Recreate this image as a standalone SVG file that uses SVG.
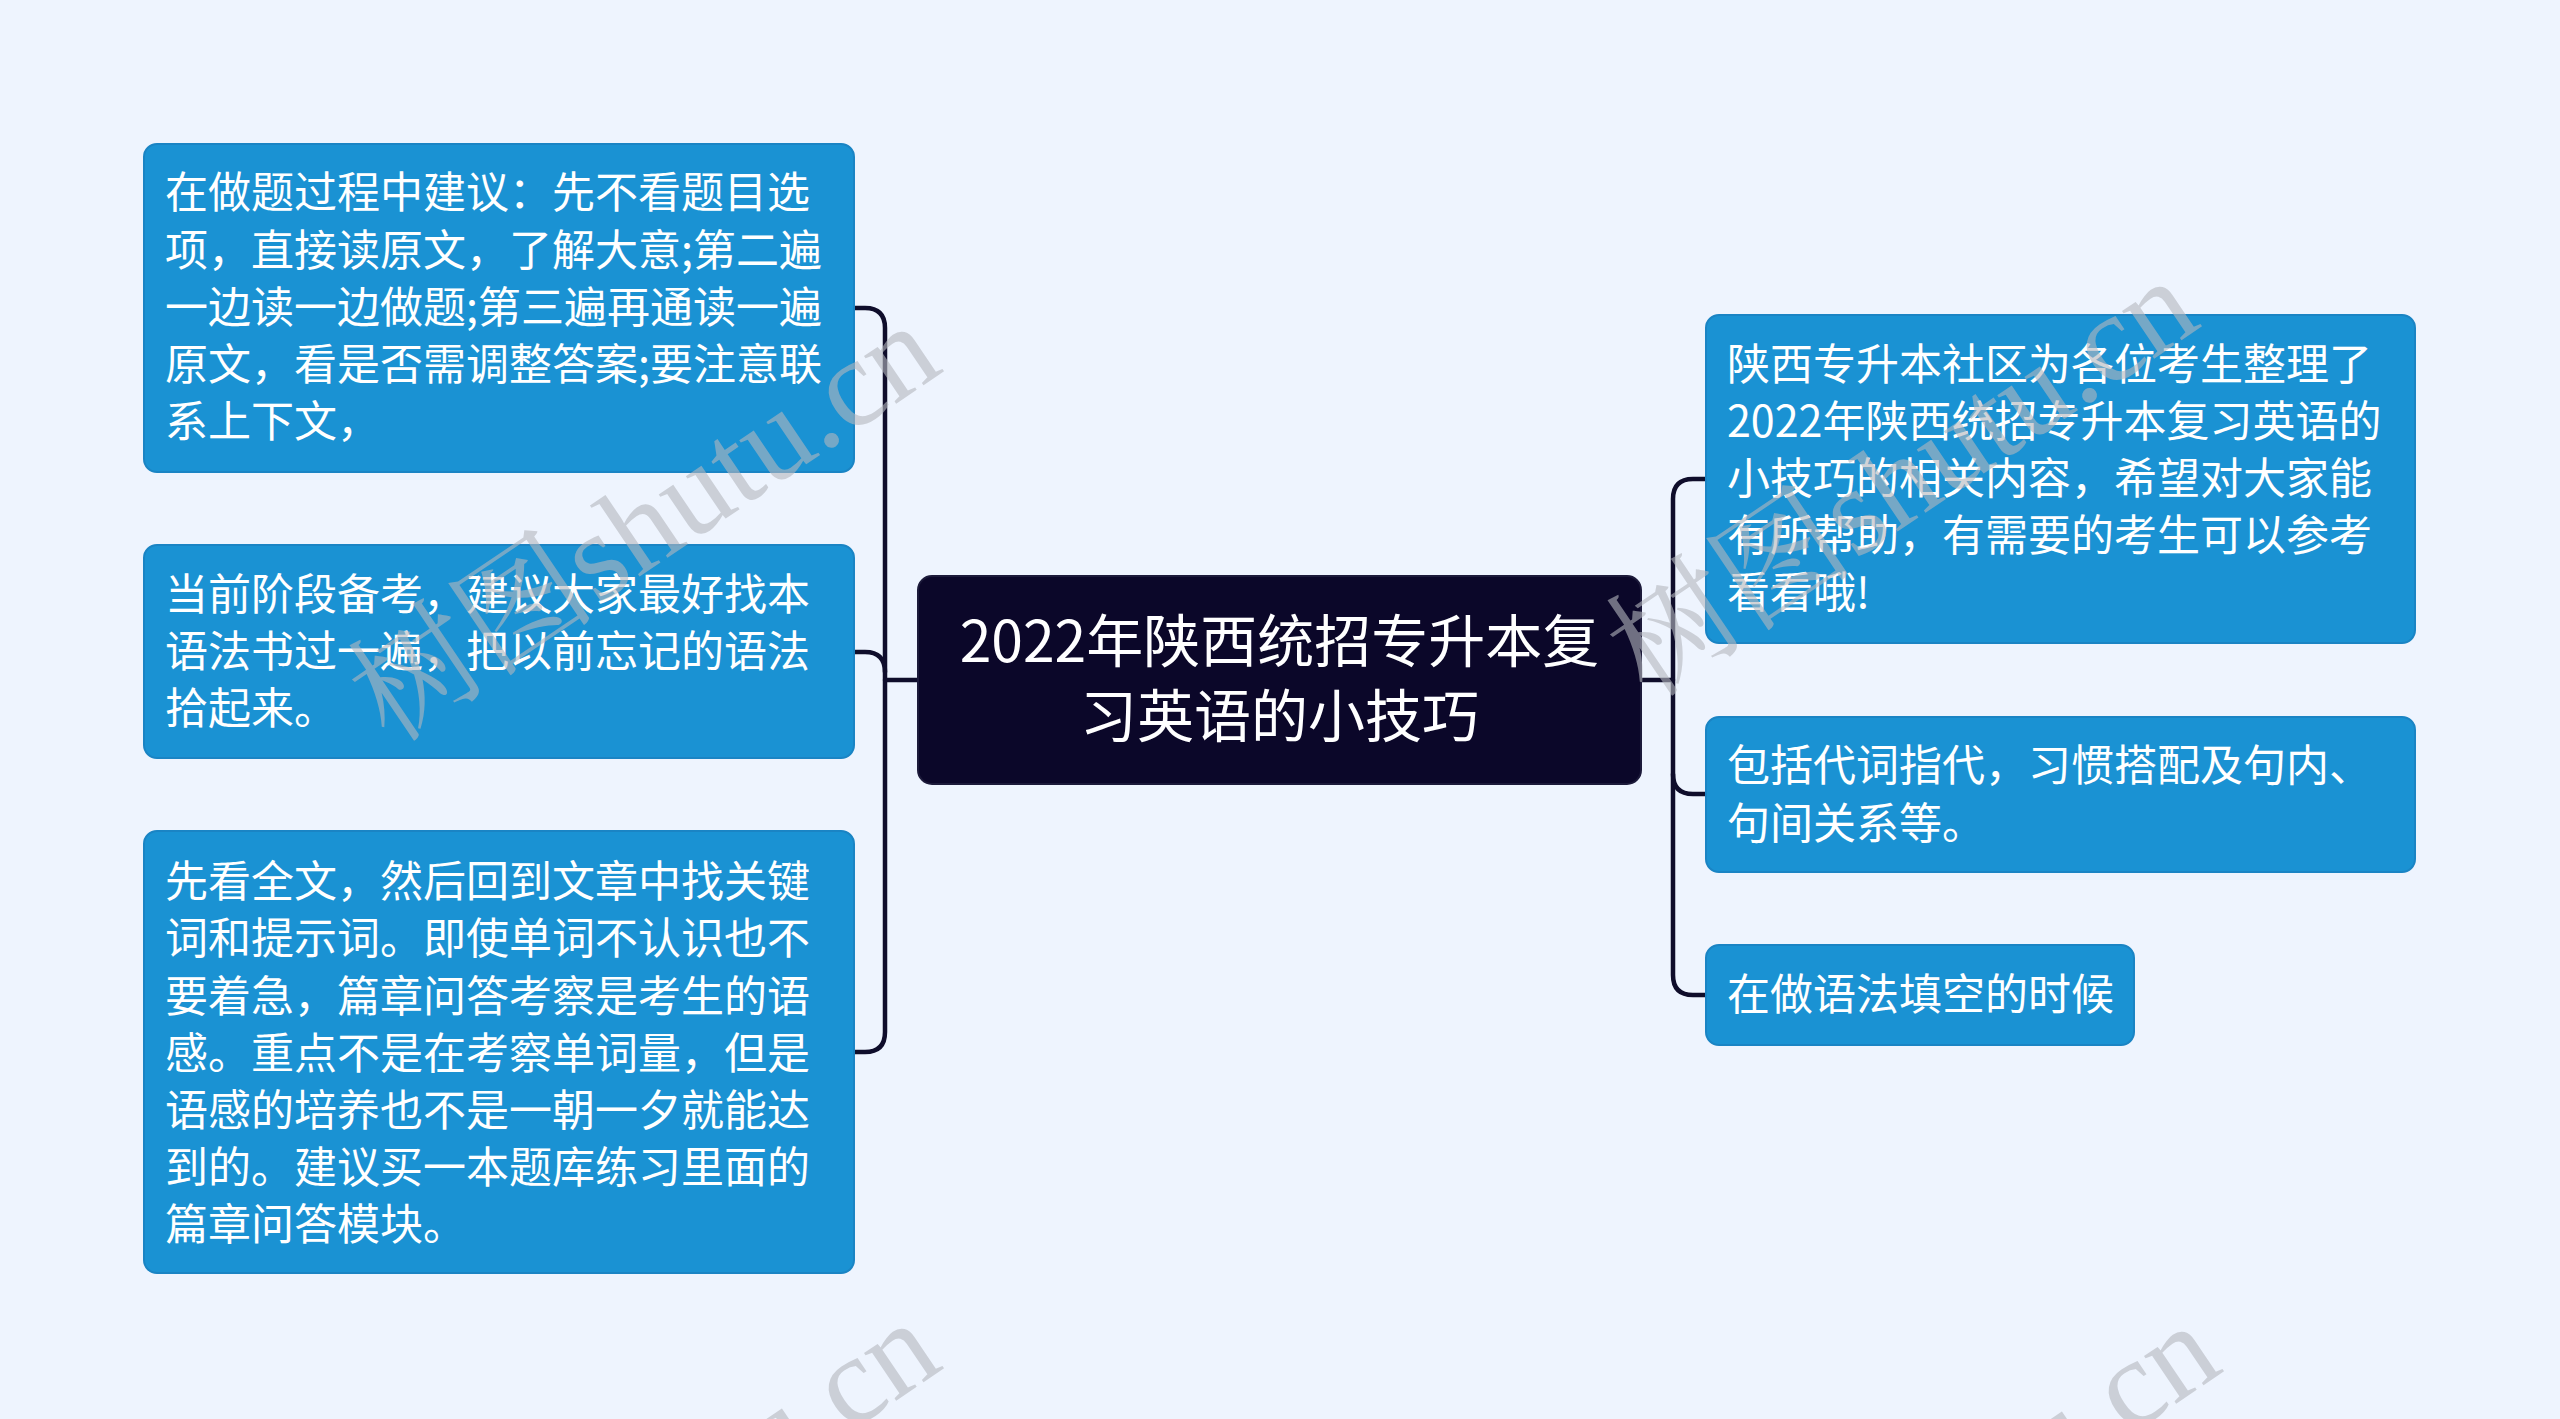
<svg xmlns="http://www.w3.org/2000/svg" width="2560" height="1419" viewBox="0 0 2560 1419">
<style>
.bg{fill:#eef4fe}
.box{fill:#1a92d3;stroke:#1a84c4;stroke-width:2}
.root{fill:#0b0729;stroke:#1c1a3a;stroke-width:2}
.t{font-family:"Noto Sans CJK SC","Noto Sans",sans-serif;font-size:43px;fill:#ffffff}
.rt{font-family:"Noto Sans CJK SC","Noto Sans",sans-serif;font-size:57px;fill:#ffffff;text-anchor:middle}
.ln{fill:none;stroke:#0f0d2b;stroke-width:4.5;stroke-linecap:round}
.wm{font-family:"Liberation Serif","Noto Serif CJK SC","Noto Sans CJK SC",serif;font-size:125px;fill:#b4b7be;opacity:0.6}
</style>
<rect class="bg" x="0" y="0" width="2560" height="1419"/>
<g id="connectors">
<path class="ln" d="M854,308 H865 Q885,308 885,328 V1032 Q885,1052 865,1052 H854"/>
<path class="ln" d="M854,652 H865 Q885,652 885,672"/>
<path class="ln" d="M885,680 H918"/>
<path class="ln" d="M1706,479 H1693 Q1673,479 1673,499 V975 Q1673,995 1693,995 H1706"/>
<path class="ln" d="M1673,774 Q1673,794 1693,794 H1706"/>
<path class="ln" d="M1641,680 H1673"/>
</g>
<g id="root">
<rect class="root" x="918" y="576" width="723" height="208" rx="14"/>
<text class="rt" x="1279.5" y="662">2022年陕西统招专升本复</text>
<text class="rt" x="1279.5" y="737">习英语的小技巧</text>
</g>
<g id="node-l1">
<rect class="box" x="144" y="144" width="710" height="328" rx="13"/>
<text class="t" x="165" y="208">在做题过程中建议：先不看题目选</text>
<text class="t" x="165" y="265.5">项，直接读原文，了解大意;第二遍</text>
<text class="t" x="165" y="323">一边读一边做题;第三遍再通读一遍</text>
<text class="t" x="165" y="380">原文，看是否需调整答案;要注意联</text>
<text class="t" x="165" y="437">系上下文，</text>
</g>
<g id="node-l2">
<rect class="box" x="144" y="545" width="710" height="213" rx="13"/>
<text class="t" x="165" y="609.5">当前阶段备考，建议大家最好找本</text>
<text class="t" x="165" y="667">语法书过一遍，把以前忘记的语法</text>
<text class="t" x="165" y="724">拾起来。</text>
</g>
<g id="node-l3">
<rect class="box" x="144" y="831" width="710" height="442" rx="13"/>
<text class="t" x="165" y="897">先看全文，然后回到文章中找关键</text>
<text class="t" x="165" y="954">词和提示词。即使单词不认识也不</text>
<text class="t" x="165" y="1011.5">要着急，篇章问答考察是考生的语</text>
<text class="t" x="165" y="1068.5">感。重点不是在考察单词量，但是</text>
<text class="t" x="165" y="1126">语感的培养也不是一朝一夕就能达</text>
<text class="t" x="165" y="1183">到的。建议买一本题库练习里面的</text>
<text class="t" x="165" y="1240">篇章问答模块。</text>
</g>
<g id="node-r1">
<rect class="box" x="1706" y="315" width="709" height="328" rx="13"/>
<text class="t" x="1727" y="379.5">陕西专升本社区为各位考生整理了</text>
<text class="t" x="1727" y="436.5">2022年陕西统招专升本复习英语的</text>
<text class="t" x="1727" y="494">小技巧的相关内容，希望对大家能</text>
<text class="t" x="1727" y="551">有所帮助，有需要的考生可以参考</text>
<text class="t" x="1727" y="608">看看哦!</text>
</g>
<g id="node-r2">
<rect class="box" x="1706" y="717" width="709" height="155" rx="13"/>
<text class="t" x="1727" y="781">包括代词指代，习惯搭配及句内、</text>
<text class="t" x="1727" y="838.5">句间关系等。</text>
</g>
<g id="node-r3">
<rect class="box" x="1706" y="945" width="428" height="100" rx="13"/>
<text class="t" x="1727" y="1010">在做语法填空的时候</text>
</g>
<g id="watermark">
<text class="wm" transform="translate(390,745) rotate(-34)">树图shutu.cn</text>
<text class="wm" transform="translate(1648,700) rotate(-34)">树图shutu.cn</text>
<text class="wm" transform="translate(390,1742) rotate(-34)">树图shutu.cn</text>
<text class="wm" transform="translate(1670,1745) rotate(-34)">树图shutu.cn</text>
</g>
</svg>
